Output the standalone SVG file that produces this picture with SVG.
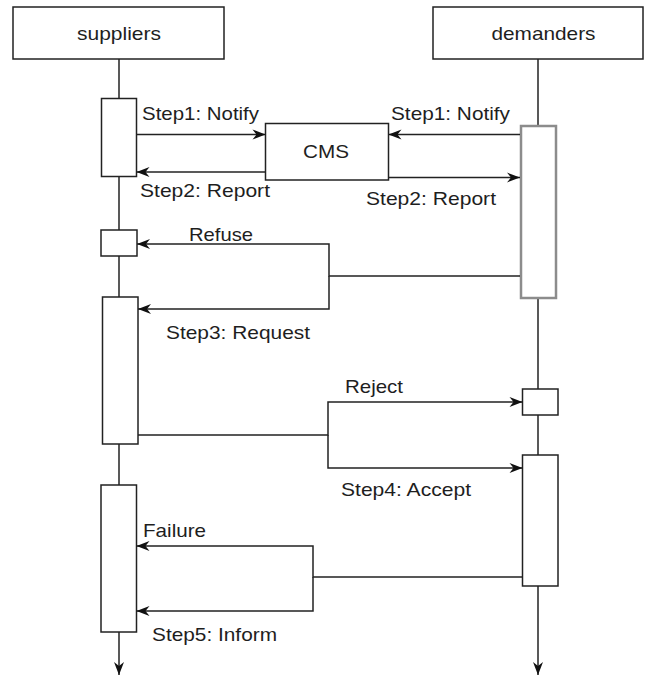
<svg xmlns="http://www.w3.org/2000/svg" width="652" height="680" viewBox="0 0 652 680">
<style>
  .box { fill: #ffffff; stroke: #222222; stroke-width: 1.5; }
  .grey { fill: #ffffff; stroke: #8c8c8c; stroke-width: 2.5; }
  .ln { fill: none; stroke: #222222; stroke-width: 1.5; }
  .t { font-family: "Liberation Sans", Arial, sans-serif; font-size: 19px; fill: #1e1e1e; }
</style>
<defs>
  <marker id="ah" markerUnits="userSpaceOnUse" markerWidth="16" markerHeight="12" viewBox="-14 -6 15 12" refX="0" refY="0" orient="auto">
    <path d="M0,0 L-13,-5 L-9,0 L-13,5 Z" fill="#111111"/>
  </marker>
</defs>
<rect width="652" height="680" fill="#ffffff"/>
<g id="lifelines">
  <path class="ln" d="M119,59 V675" marker-end="url(#ah)"/>
  <path class="ln" d="M538,59 V675" marker-end="url(#ah)"/>
</g>
<g id="suppliers">
  <rect class="box" x="13" y="7" width="211" height="52"/>
  <text class="t" x="77" y="39.5" textLength="84" lengthAdjust="spacingAndGlyphs">suppliers</text>
</g>
<g id="demanders">
  <rect class="box" x="433" y="7" width="210" height="52"/>
  <text class="t" x="491.5" y="39.5" textLength="104" lengthAdjust="spacingAndGlyphs">demanders</text>
</g>
<g id="cms">
  <rect class="box" x="265.5" y="123.5" width="123" height="56.5"/>
  <text class="t" x="303" y="158" textLength="46" lengthAdjust="spacingAndGlyphs">CMS</text>
</g>
<g id="sup-act1"><rect class="box" x="101.5" y="98.5" width="35" height="78"/></g>
<g id="sup-act2"><rect class="box" x="101" y="230" width="36" height="26"/></g>
<g id="sup-act3"><rect class="box" x="102.5" y="297" width="35.5" height="147"/></g>
<g id="sup-act4"><rect class="box" x="101" y="485" width="35.5" height="147"/></g>
<g id="dem-act1"><rect class="grey" x="521" y="126" width="35" height="172"/></g>
<g id="dem-act2"><rect class="box" x="522.5" y="389" width="35.5" height="26"/></g>
<g id="dem-act3"><rect class="box" x="522.5" y="455" width="35.5" height="131"/></g>
<g id="connectors">
  <path class="ln" d="M136.5,134.5 H265.5" marker-end="url(#ah)"/>
  <path class="ln" d="M520,134.5 H388.5" marker-end="url(#ah)"/>
  <path class="ln" d="M265.5,172 H136.5" marker-end="url(#ah)"/>
  <path class="ln" d="M388.5,177.5 H520" marker-end="url(#ah)"/>
  <path class="ln" d="M520,276 H329 V244 H137" marker-end="url(#ah)"/>
  <path class="ln" d="M329,276 V309 H138" marker-end="url(#ah)"/>
  <path class="ln" d="M138,435 H328 V402 H522.5" marker-end="url(#ah)"/>
  <path class="ln" d="M328,435 V468 H522.5" marker-end="url(#ah)"/>
  <path class="ln" d="M522.5,577 H313 V546 H136.5" marker-end="url(#ah)"/>
  <path class="ln" d="M313,577 V611 H136.5" marker-end="url(#ah)"/>
</g>
<g id="labels">
  <text class="t" x="142" y="120" textLength="117" lengthAdjust="spacingAndGlyphs">Step1: Notify</text>
  <text class="t" x="391" y="120" textLength="119" lengthAdjust="spacingAndGlyphs">Step1: Notify</text>
  <text class="t" x="140" y="197" textLength="130" lengthAdjust="spacingAndGlyphs">Step2: Report</text>
  <text class="t" x="366" y="205" textLength="130" lengthAdjust="spacingAndGlyphs">Step2: Report</text>
  <text class="t" x="189" y="241" textLength="64" lengthAdjust="spacingAndGlyphs">Refuse</text>
  <text class="t" x="166" y="339" textLength="144" lengthAdjust="spacingAndGlyphs">Step3: Request</text>
  <text class="t" x="345" y="393" textLength="58" lengthAdjust="spacingAndGlyphs">Reject</text>
  <text class="t" x="341" y="496" textLength="130" lengthAdjust="spacingAndGlyphs">Step4: Accept</text>
  <text class="t" x="143" y="537" textLength="63" lengthAdjust="spacingAndGlyphs">Failure</text>
  <text class="t" x="152" y="641" textLength="125" lengthAdjust="spacingAndGlyphs">Step5: Inform</text>
</g>
</svg>
